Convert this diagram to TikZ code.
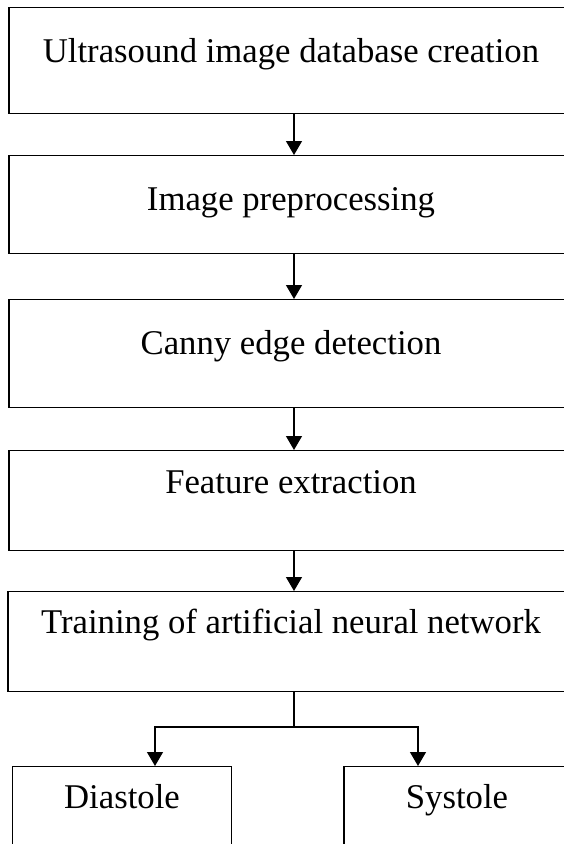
\documentclass[tikz,border=0pt]{standalone}
\usepackage{fontspec}
\setmainfont{Liberation Serif}
\usetikzlibrary{arrows.meta}
\begin{document}
\begin{tikzpicture}[x=1pt,y=1pt,
  box/.style={draw=black, line width=1.2pt, inner xsep=0pt, inner ysep=0pt,
    anchor=north, font=\fontsize{34.7}{40}\selectfont},
  arr/.style={line width=1.2pt, -{Triangle[width=16pt,length=14pt]}}]
\useasboundingbox (0,0) rectangle (564,-844);
\clip (0,0) rectangle (564,-844);
\fill[white] (0,0) rectangle (564,-844);
\node[box, minimum width=564pt, text height=55pt, text depth=51pt] (b1) at (291,-7) {Ultrasound image database creation};
\node[box, minimum width=564pt, text height=55pt, text depth=43pt] (b2) at (291,-155) {Image preprocessing};
\node[box, minimum width=564pt, text height=55pt, text depth=53pt] (b3) at (291,-299) {Canny edge detection};
\node[box, minimum width=564pt, text height=43pt, text depth=57pt] (b4) at (291,-450) {Feature extraction};
\node[box, minimum width=566pt, text height=42pt, text depth=58pt] (b5) at (291,-591) {Training of artificial neural network};
\node[box, minimum width=219pt, text height=42pt, text depth=80pt] (d) at (122,-766) {Diastole};
\node[box, minimum width=226pt, text height=42pt, text depth=80pt] (s) at (457,-766) {Systole};
\draw[arr] (294,-7 |- b1.south) -- (294,-7 |- b2.north);
\draw[arr] (294,-7 |- b2.south) -- (294,-7 |- b3.north);
\draw[arr] (294,-7 |- b3.south) -- (294,-7 |- b4.north);
\draw[arr] (294,-7 |- b4.south) -- (294,-7 |- b5.north);
\coordinate (j) at (294,-727);
\draw[line width=1.2pt] (294,-7 |- b5.south) -- (j);
\draw[arr] (j) -| (155,-7 |- d.north);
\draw[arr] (j) -| (418,-7 |- s.north);
\end{tikzpicture}
\end{document}
